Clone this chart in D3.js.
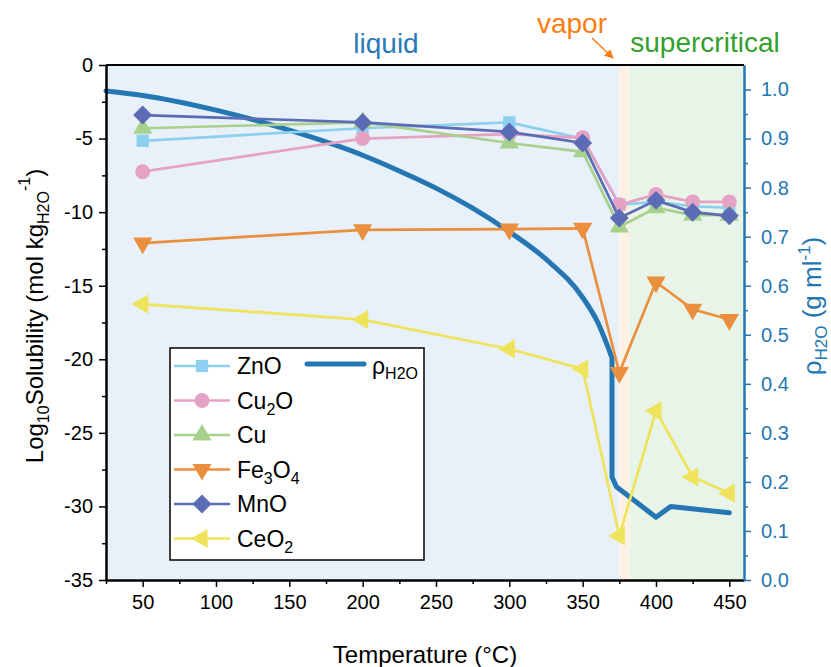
<!DOCTYPE html>
<html>
<head>
<meta charset="utf-8">
<script src="https://cdn.jsdelivr.net/npm/d3@7"></script>
<style>
  body { margin: 0; background: #fff; }
  svg { font-family: "Liberation Sans", Arial, sans-serif; }
</style>
</head>
<body>
<svg id="chart" width="831" height="667"></svg>
<script>
// temperatures (°C) where solubility was computed
const temps = [50, 200, 300, 350, 375, 400, 425, 450];

// log10 solubility values, one array per compound
const znO = [-5.15, -4.3, -3.9, -5.0, -9.5, -9.3, -9.6, -9.7];
const cu2O = [-7.25, -5.0, -4.7, -4.95, -9.5, -8.8, -9.3, -9.3];
const cu = [-4.3, -3.9, -5.3, -5.9, -11.0, -9.7, -10.2, -10.2];
const fe3O4 = [-12.1, -11.2, -11.15, -11.1, -20.9, -14.75, -16.6, -17.3];
const mnO = [-3.4, -3.9, -4.55, -5.3, -10.4, -9.2, -10.0, -10.25];
const ceO2 = [-16.25, -17.3, -19.3, -20.65, -32.0, -23.5, -28.0, -29.1];

// water density curve (right axis): smooth liquid branch, then the jump and supercritical part
const rhoLiqT = [25, 50, 100, 150, 200, 225, 250, 275, 300, 325, 350, 360, 370];
const rhoLiqV = [0.997, 0.988, 0.958, 0.917, 0.866, 0.834, 0.799, 0.758, 0.71, 0.654, 0.576, 0.527, 0.453];
const rhoScT = [370, 370, 373, 400, 410, 450];
const rhoScV = [0.453, 0.21, 0.19, 0.128, 0.150, 0.137];

// axis ticks
const xTicks = [50, 100, 150, 200, 250, 300, 350, 400, 450];
const yTicks = [0, -5, -10, -15, -20, -25, -30, -35];
const y2Ticks = [0, 0.1, 0.2, 0.3, 0.4, 0.5, 0.6, 0.7, 0.8, 0.9, 1.0];

const svg = d3.select('#chart');
const pLeft = 106, pRight = 744, pTop = 65, pBottom = 580;

const x = d3.scaleLinear().domain([25, 460]).range([pLeft, pRight]);
const y = d3.scaleLinear().domain([-35, 0]).range([pBottom, pTop]);
const y2 = d3.scaleLinear().domain([0, 1.05]).range([pBottom, pTop]);

const blue = '#2477b3';

// phase regions
const regions = [
  { from: 25, to: 375, fill: '#e8f1f9' },
  { from: 375, to: 382, fill: '#fdf1e4' },
  { from: 382, to: 460, fill: '#e9f4e8' },
];
svg.selectAll('.region')
  .data(regions)
  .enter()
  .append('rect')
  .attr('x', d => x(d.from))
  .attr('width', d => x(d.to) - x(d.from))
  .attr('y', pTop)
  .attr('height', pBottom - pTop)
  .attr('fill', d => d.fill);

// density line
const rhoLine = d3.line().x(d => x(d[0])).y(d => y2(d[1]));
const liq = rhoLiqT.map((t, i) => [t, rhoLiqV[i]]);
const sc = rhoScT.map((t, i) => [t, rhoScV[i]]);
svg.append('path')
  .attr('d', rhoLine.curve(d3.curveMonotoneX)(liq) + rhoLine.curve(d3.curveLinear)(sc).replace(/^M/, 'L'))
  .attr('fill', 'none')
  .attr('stroke', blue)
  .attr('stroke-width', 5)
  .attr('stroke-linejoin', 'round')
  .attr('stroke-linecap', 'round');

// marker shapes
const tri = d3.symbol().type(d3.symbolTriangle).size(160)();
const shapes = {
  square: { path: d3.symbol().type(d3.symbolSquare).size(150)(), rot: 0 },
  circle: { path: d3.symbol().type(d3.symbolCircle).size(175)(), rot: 0 },
  up: { path: tri, rot: 0 },
  down: { path: tri, rot: 180 },
  diamond: { path: d3.symbol().type(d3.symbolSquare).size(180)(), rot: 45 },
  left: { path: tri, rot: -90 },
};

const series = [
  { name: 'ZnO', sub: '', vals: znO, color: '#8dcfee', shape: 'square' },
  { name: 'Cu', sub: '2', tail: 'O', vals: cu2O, color: '#e6a2c5', shape: 'circle' },
  { name: 'Cu', sub: '', vals: cu, color: '#a9d18e', shape: 'up' },
  { name: 'Fe', sub: '3', tail: 'O', sub2: '4', vals: fe3O4, color: '#e98f3d', shape: 'down' },
  { name: 'MnO', sub: '', vals: mnO, color: '#5b6cb5', shape: 'diamond' },
  { name: 'CeO', sub: '2', vals: ceO2, color: '#eee35a', shape: 'left' },
];

const line = d3.line().x(d => x(d[0])).y(d => y(d[1]));

series.forEach((s) => {
  const pts = temps.map((t, i) => [t, s.vals[i]]);
  const g = svg.append('g');
  g.append('path')
    .attr('d', line(pts))
    .attr('fill', 'none')
    .attr('stroke', s.color)
    .attr('stroke-width', 2.7);
  g.selectAll('path.mk')
    .data(pts)
    .enter()
    .append('path')
    .attr('class', 'mk')
    .attr('d', shapes[s.shape].path)
    .attr('transform', d => `translate(${x(d[0])},${y(d[1])}) rotate(${shapes[s.shape].rot})`)
    .attr('fill', s.color);
});

// axes
const plain = d => `${d}`;
const xAxis = svg.append('g').attr('transform', `translate(0,${pBottom})`)
  .call(d3.axisBottom(x).tickValues(xTicks).tickFormat(plain).tickSize(7).tickPadding(8).tickSizeOuter(0));
svg.append('g').attr('transform', `translate(0,${pBottom})`)
  .call(d3.axisBottom(x).tickValues(d3.range(25, 460, 50)).tickSize(4).tickFormat('').tickSizeOuter(0));

const yAxis = svg.append('g').attr('transform', `translate(${pLeft},0)`)
  .call(d3.axisLeft(y).tickValues(yTicks).tickFormat(plain).tickSize(7).tickPadding(6).tickSizeOuter(0));
svg.append('g').attr('transform', `translate(${pLeft},0)`)
  .call(d3.axisLeft(y).tickValues(d3.range(-32.5, 0, 5)).tickSize(4).tickFormat('').tickSizeOuter(0));

const y2Axis = svg.append('g').attr('transform', `translate(${pRight},0)`)
  .call(d3.axisRight(y2).tickValues(y2Ticks).tickFormat(d3.format('.1f')).tickSize(7).tickPadding(10).tickSizeOuter(0));
const y2Minor = svg.append('g').attr('transform', `translate(${pRight},0)`)
  .call(d3.axisRight(y2).tickValues(d3.range(0.05, 1.05, 0.1)).tickSize(4).tickFormat('').tickSizeOuter(0));

svg.selectAll('.domain').attr('stroke-width', 2);
svg.selectAll('.tick line').attr('stroke-width', 1.5);
xAxis.selectAll('text').attr('font-size', 20).attr('fill', '#000');
yAxis.selectAll('text').attr('font-size', 20).attr('fill', '#000');
y2Axis.selectAll('text').attr('font-size', 20).attr('fill', blue);
y2Axis.selectAll('line, path').attr('stroke', blue);
y2Minor.selectAll('line, path').attr('stroke', blue);

// top border
svg.append('line')
  .attr('x1', pLeft).attr('x2', pRight).attr('y1', pTop).attr('y2', pTop)
  .attr('stroke', '#000').attr('stroke-width', 2);

// axis titles
svg.append('text')
  .attr('x', (pLeft + pRight) / 2).attr('y', 663)
  .attr('text-anchor', 'middle').attr('font-size', 24)
  .text('Temperature (°C)');

const yt = svg.append('text')
  .attr('transform', 'translate(43,316) rotate(-90)')
  .attr('text-anchor', 'middle').attr('font-size', 24);
yt.append('tspan').text('Log');
yt.append('tspan').attr('font-size', 16).attr('dy', 6).text('10');
yt.append('tspan').attr('dy', -6).text('Solubility (mol kg');
yt.append('tspan').attr('font-size', 16).attr('dy', 6).text('H2O');
yt.append('tspan').attr('font-size', 16).attr('dy', -19).text('-1');
yt.append('tspan').attr('dy', 13).text(')');

const rt = svg.append('text')
  .attr('transform', 'translate(821,306) rotate(-90)')
  .attr('text-anchor', 'middle').attr('font-size', 26).attr('fill', blue);
rt.append('tspan').text('ρ');
rt.append('tspan').attr('font-size', 17).attr('dy', 6).text('H2O');
rt.append('tspan').attr('dy', -6).text(' (g ml');
rt.append('tspan').attr('font-size', 17).attr('dy', -11).text('-1');
rt.append('tspan').attr('dy', 11).text(')');

// phase labels
svg.append('text').attr('x', 386).attr('y', 53).attr('text-anchor', 'middle')
  .attr('font-size', 28).attr('fill', '#2a7ab9').text('liquid');
svg.append('text').attr('x', 572).attr('y', 33).attr('text-anchor', 'middle')
  .attr('font-size', 28).attr('fill', '#fb7d12').text('vapor');
svg.append('text').attr('x', 705).attr('y', 52).attr('text-anchor', 'middle')
  .attr('font-size', 28).attr('fill', '#33a02c').text('supercritical');

svg.append('defs').append('marker')
  .attr('id', 'arr').attr('viewBox', '0 0 10 10').attr('refX', 9).attr('refY', 5)
  .attr('markerWidth', 6).attr('markerHeight', 6).attr('orient', 'auto')
  .append('path').attr('d', 'M0,0L10,5L0,10z').attr('fill', '#fb7d12');
svg.append('line')
  .attr('x1', 592).attr('y1', 38).attr('x2', 613).attr('y2', 58)
  .attr('stroke', '#fb7d12').attr('stroke-width', 1.5)
  .attr('marker-end', 'url(#arr)');

// legend
const lg = svg.append('g');
lg.append('rect')
  .attr('x', 170).attr('y', 348).attr('width', 254).attr('height', 212)
  .attr('fill', '#fff').attr('stroke', '#000').attr('stroke-width', 1.5);

series.forEach((s, i) => {
  const ly = 366 + i * 34.5;
  lg.append('line').attr('x1', 174).attr('x2', 230).attr('y1', ly).attr('y2', ly)
    .attr('stroke', s.color).attr('stroke-width', 2.7);
  lg.append('path').attr('d', shapes[s.shape].path)
    .attr('transform', `translate(202,${ly}) rotate(${shapes[s.shape].rot})`)
    .attr('fill', s.color);
  const t = lg.append('text').attr('x', 237).attr('y', ly + 8).attr('font-size', 23);
  t.append('tspan').text(s.name);
  if (s.sub) {
    t.append('tspan').attr('font-size', 16).attr('dy', 6).text(s.sub);
    if (s.tail) {
      t.append('tspan').attr('dy', -6).text(s.tail);
      if (s.sub2) t.append('tspan').attr('font-size', 16).attr('dy', 6).text(s.sub2);
    }
  }
});

lg.append('line').attr('x1', 307).attr('x2', 364).attr('y1', 364).attr('y2', 364)
  .attr('stroke', blue).attr('stroke-width', 5).attr('stroke-linecap', 'round');
const rl = lg.append('text').attr('x', 372).attr('y', 374).attr('font-size', 23);
rl.append('tspan').text('ρ');
rl.append('tspan').attr('font-size', 16).attr('dy', 5).text('H2O');
</script>
</body>
</html>
